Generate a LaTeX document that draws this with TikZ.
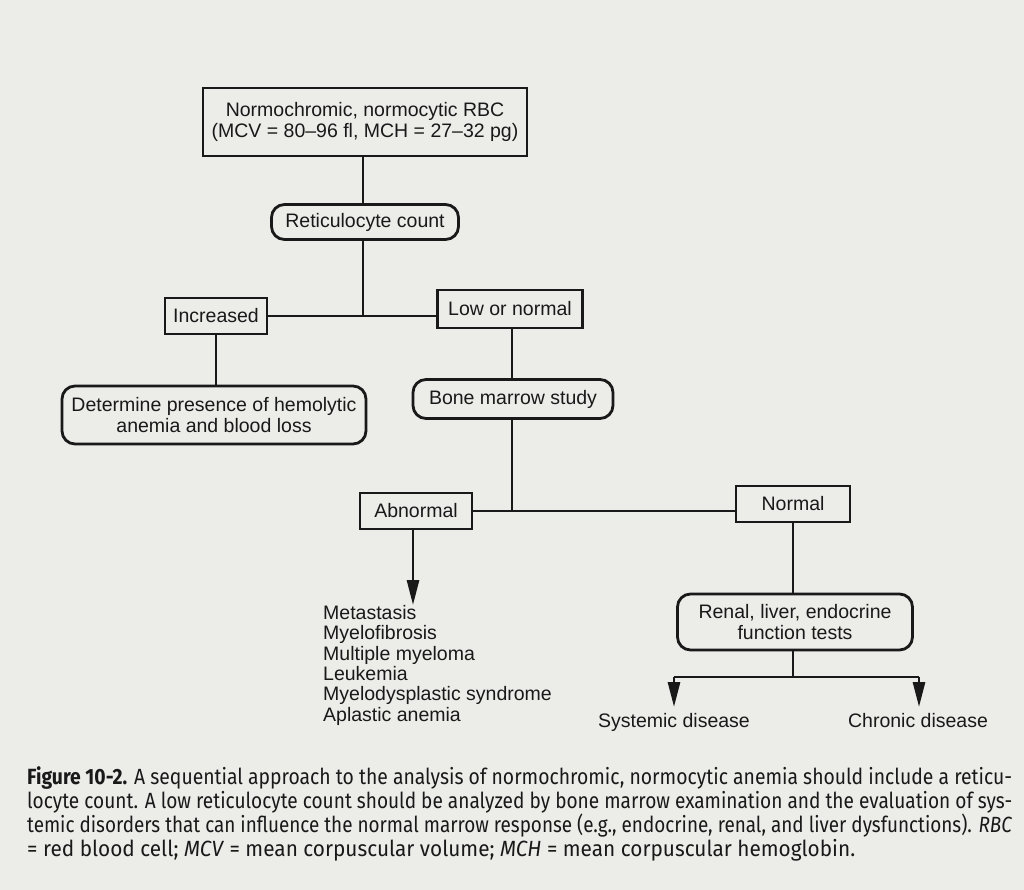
\documentclass[tikz,border=0pt]{standalone}
\usepackage{fontspec}
\usepackage{graphicx}
\setmainfont{Liberation Sans}
\newfontfamily\capfont{Fira Sans}
\usetikzlibrary{arrows.meta}
\definecolor{paper}{RGB}{236,236,233}
\definecolor{ink}{RGB}{25,25,25}
\tikzset{
  sqbox/.style={draw=ink, line width=2.8pt, fill=paper, align=center, inner sep=0pt, text=ink, font=\fontsize{19.5}{20.5}\selectfont},
  rbox/.style={sqbox, rounded corners=13pt},
  conn/.style={draw=ink, line width=2.8pt},
  arr/.style={conn, -{Triangle[width=12pt,length=25pt]}},
  lbl/.style={text=ink, font=\fontsize{19.5}{20.5}\selectfont, inner sep=0pt},
  capline/.style={anchor=base west, inner sep=0pt, text=ink, font=\capfont\fontsize{22}{24}\selectfont}
}
\begin{document}
\begin{tikzpicture}[x=1pt,y=-1pt]
\useasboundingbox (0,0) rectangle (1024,890);
\fill[paper] (0,0) rectangle (1024,890);

\node[sqbox, minimum width=324pt, minimum height=68pt] (top) at (365,122)
  {Normochromic, normocytic RBC\\(MCV = 80--96 fl, MCH = 27--32 pg)};
\node[rbox, minimum width=187pt, minimum height=35pt] (ret) at (365,222) {Reticulocyte count};
\node[sqbox, minimum width=102pt, minimum height=36pt] (inc) at (216,316) {Increased};
\node[sqbox, minimum width=145pt, minimum height=38pt] (low) at (510,309) {Low or normal};
\node[rbox, minimum width=304pt, minimum height=58pt] (det) at (214,415)
  {Determine presence of hemolytic\\anemia and blood loss};
\node[rbox, minimum width=200pt, minimum height=39pt] (bms) at (513,399) {Bone marrow study};
\node[sqbox, minimum width=112pt, minimum height=36pt] (abn) at (416,511) {Abnormal};
\node[sqbox, minimum width=114pt, minimum height=36pt] (nor) at (793,504) {Normal};
\node[rbox, minimum width=235pt, minimum height=56pt] (ren) at (795,622)
  {Renal, liver, endocrine\\function tests};

\node[lbl, anchor=north west, align=left, font=\fontsize{19.5}{20.4}\selectfont] (list) at (323,605)
  {Metastasis\\Myelofibrosis\\Multiple myeloma\\Leukemia\\Myelodysplastic syndrome\\Aplastic anemia};
\node[lbl, anchor=north] (sys) at (674,713) {Systemic disease};
\node[lbl, anchor=north] (chr) at (918,713) {Chronic disease};

\coordinate (j1) at (363,316);
\coordinate (j2) at (512,511);
\coordinate (j3) at (793,677);
\coordinate (aL) at (674,677);
\coordinate (aR) at (919,677);

\draw[conn] (top.south -| 363,0) -- (ret.north -| 363,0);
\draw[conn] (ret.south -| 363,0) -- (j1);
\draw[conn] (inc.east) -- (j1) -- (j1 -| low.west);
\draw[conn] (inc.south) -- (det.north -| inc.south);
\draw[conn] (low.south -| 512,0) -- (bms.north -| 512,0);
\draw[conn] (bms.south -| 512,0) -- (j2);
\draw[conn] (abn.east |- j2) -- (j2) -- (j2 -| nor.west);
\draw[arr] (abn.south -| 413,0) -- (list.north -| 413,0);
\draw[conn] (nor.south) -- (ren.north -| nor.south);
\draw[conn] (ren.south -| j3) -- (j3);
\draw[conn] (aL) -- (aR);
\draw[arr, shorten >=6pt] (aL) -- (sys.north -| aL);
\draw[arr, shorten >=6pt] (aR) -- (chr.north -| aR);

\node[capline] (c1) at (27,784) {\resizebox{985pt}{\height}{\textbf{Figure 10-2.} A sequential approach to the analysis of normochromic, normocytic anemia should include a reticu-}};
\node[capline] (c2) at (27,808) {\resizebox{985pt}{\height}{locyte count. A low reticulocyte count should be analyzed by bone marrow examination and the evaluation of sys-}};
\node[capline] (c3) at (27,832) {\resizebox{985pt}{\height}{temic disorders that can influence the normal marrow response (e.g., endocrine, renal, and liver dysfunctions). \textit{RBC}}};
\node[capline] (c4) at (27,856) {\resizebox{828pt}{\height}{= red blood cell; \textit{MCV} = mean corpuscular volume; \textit{MCH} = mean corpuscular hemoglobin.}};
\end{tikzpicture}
\end{document}
